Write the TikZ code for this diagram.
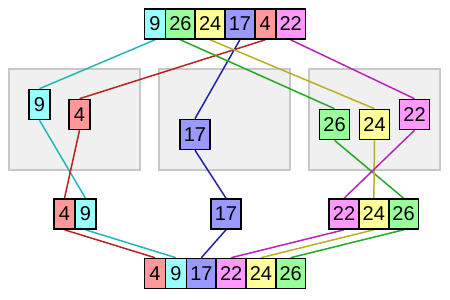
\documentclass[tikz,border=0pt]{standalone}
\usepackage{fontspec}
\setmainfont{Liberation Sans}
\definecolor{fC}{HTML}{99FFFF}\definecolor{lC}{HTML}{22B8B8}
\definecolor{fG}{HTML}{99FF99}\definecolor{lG}{HTML}{22AA22}
\definecolor{fY}{HTML}{FFFF99}\definecolor{lY}{HTML}{B8B020}
\definecolor{fB}{HTML}{9999FF}\definecolor{lB}{HTML}{2222AA}
\definecolor{fR}{HTML}{FF9999}\definecolor{lR}{HTML}{BB2222}
\definecolor{fM}{HTML}{FF99FF}\definecolor{lM}{HTML}{BB22BB}
\definecolor{boxfill}{HTML}{F0F0F0}\definecolor{boxline}{HTML}{C8C8C8}
\pgfdeclarelayer{bg}\pgfdeclarelayer{mid}\pgfsetlayers{bg,mid,main}
\tikzset{
  cell/.style={draw=black, line width=1.6pt, minimum height=30pt, inner sep=0pt,
    font=\fontsize{20}{20}\selectfont},
  one/.style={cell, minimum width=21pt},
  two/.style={cell, minimum width=29.75pt},
  group/.style={draw=boxline, fill=boxfill, line width=2.2pt},
  link/.style={line width=1.5pt}
}
\begin{document}
\begin{tikzpicture}[x=1pt,y=-1pt]
\useasboundingbox (0,0) rectangle (450,300);
\begin{pgfonlayer}{bg}
\draw[group] (9,69) rectangle (140,170);
\draw[group] (159,69) rectangle (290,170);
\draw[group] (309,69) rectangle (440,170);
\end{pgfonlayer}
% top row
\node[one,fill=fC] (t9)  at (155,24) {9};
\node[two,fill=fG] (t26) at (180.375,24) {26};
\node[two,fill=fY] (t24) at (210.125,24) {24};
\node[two,fill=fB] (t17) at (239.875,24) {17};
\node[one,fill=fR] (t4)  at (265.25,24) {4};
\node[two,fill=fM] (t22) at (290.625,24) {22};
% middle groups
\node[one,fill=fC] (m9)  at (39.5,104.5) {9};
\node[one,fill=fR] (m4)  at (79.5,114.5) {4};
\node[two,fill=fB] (m17) at (195,134.5) {17};
\node[two,fill=fG] (m26) at (334.5,124.5) {26};
\node[two,fill=fY] (m24) at (374.5,124.5) {24};
\node[two,fill=fM] (m22) at (414.5,114.5) {22};
% third row
\node[one,fill=fR] (r4)  at (64.5,214) {4};
\node[one,fill=fC] (r9)  at (85.5,214) {9};
\node[two,fill=fB] (r17) at (226,214) {17};
\node[two,fill=fM] (r22) at (344.1,214) {22};
\node[two,fill=fY] (r24) at (373.85,214) {24};
\node[two,fill=fG] (r26) at (403.6,214) {26};
% bottom row
\node[one,fill=fR] (b4)  at (155,273.5) {4};
\node[one,fill=fC] (b9)  at (176,273.5) {9};
\node[two,fill=fB] (b17) at (201.375,273.5) {17};
\node[two,fill=fM] (b22) at (231.125,273.5) {22};
\node[two,fill=fY] (b24) at (260.875,273.5) {24};
\node[two,fill=fG] (b26) at (290.625,273.5) {26};
\begin{pgfonlayer}{mid}
\draw[link,lC] (t9.south) -- (m9.north);
\draw[link,lR] (t4.south) -- (m4.north);
\draw[link,lB] (t17.south) -- (m17.north);
\draw[link,lG] (t26.south) -- (m26.north);
\draw[link,lY] (t24.south) -- (m24.north);
\draw[link,lM] (t22.south) -- (m22.north);
\draw[link,lC] (m9.south) -- (r9.north);
\draw[link,lR] (m4.south) -- (r4.north);
\draw[link,lB] (m17.south) -- (r17.north);
\draw[link,lG] (m26.south) -- (r26.north);
\draw[link,lY] (m24.south) -- (r24.north);
\draw[link,lM] (m22.south) -- (r22.north);
\draw[link,lR] (r4.south) -- (b4.north);
\draw[link,lC] (r9.south) -- (b9.north);
\draw[link,lB] (r17.south) -- (b17.north);
\draw[link,lM] (r22.south) -- (b22.north);
\draw[link,lY] (r24.south) -- (b24.north);
\draw[link,lG] (r26.south) -- (b26.north);
\end{pgfonlayer}
\end{tikzpicture}
\end{document}
